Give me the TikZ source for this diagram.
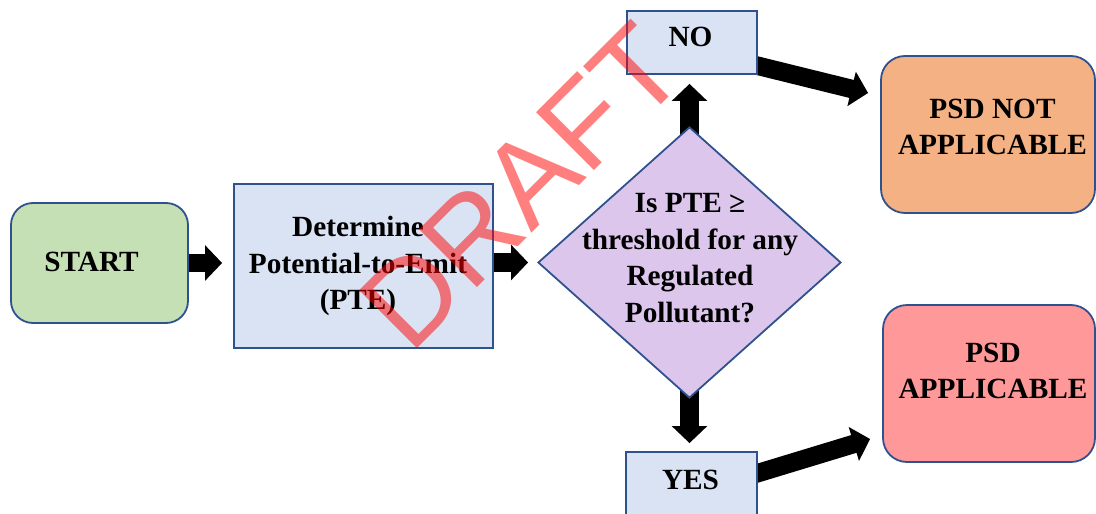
\documentclass[tikz,border=0pt]{standalone}
\usepackage{fontspec}
\setmainfont{Liberation Serif}
\newfontfamily\wmfont{Liberation Sans}
\usetikzlibrary{arrows.meta,shapes.geometric,backgrounds}
\definecolor{bordc}{HTML}{2F528F}
\definecolor{startc}{HTML}{C5E0B4}
\definecolor{detc}{HTML}{DAE3F3}
\definecolor{diac}{RGB}{220,198,236}
\definecolor{psdnoc}{HTML}{F4B183}
\definecolor{psdc}{HTML}{FF9999}
\begin{document}
\begin{tikzpicture}[x=1pt,y=-1pt,
  box/.style={draw=bordc,line width=1.8pt,inner sep=0pt},
  txt/.style={font=\fontsize{29.3pt}{36.6pt}\selectfont\bfseries,align=center,inner sep=0pt},
  blockarrow/.style={line width=18.5pt,-{Triangle[length=17pt,width=34.5pt]}}]
\useasboundingbox (0,0) rectangle (1096,514);
% boxes
\node[box,fill=startc,rounded corners=22pt,minimum width=177pt,minimum height=120pt] (start) at (99.5,263) {};
\node[box,fill=detc,minimum width=259pt,minimum height=164pt] (det) at (363.5,266) {};
\node[box,fill=diac,diamond,minimum width=303pt,minimum height=271pt] (dia) at (689.5,262.5) {};
\node[box,fill=detc,minimum width=130pt,minimum height=63pt] (no) at (692,42.5) {};
\node[box,fill=detc,minimum width=131pt,minimum height=65pt] (yes) at (691.5,484.5) {};
\node[box,fill=psdnoc,rounded corners=24pt,minimum width=214pt,minimum height=157pt] (psdno) at (988,134.5) {};
\node[box,fill=psdc,rounded corners=24pt,minimum width=212pt,minimum height=157pt] (psd) at (989,383.5) {};
% texts
\node[txt] (startT) at (91.5,262) {START};
\node[txt] (detT) at (358,266) {Determine\\Potential-to-Emit\\(PTE)};
\node[txt] (diaT) at (690,258) {Is PTE ≥\\threshold for any\\Regulated\\Pollutant?};
\node[txt] (noT) at (690.5,37) {NO};
\node[txt] (yesT) at (690.5,480.3) {YES};
\node[txt] (psdnoT) at (992.5,127) {PSD NOT\\APPLICABLE};
\node[txt] (psdT) at (993,371) {PSD\\APPLICABLE};
% connectors
\begin{pgfonlayer}{background}
\draw[blockarrow,shorten >=11pt] (start.east) -- (start.east -| det.west);
\draw[blockarrow,shorten >=9pt] (det.east |- dia.west) -- (dia.west);
\draw[blockarrow,shorten >=9pt] (dia.center) -- (dia.center |- no.south);
\draw[blockarrow,shorten >=8pt] (dia.center) -- (dia.center |- yes.north);
\draw[blockarrow] ([xshift=-7.8pt,yshift=11pt]no.south east) -- ([xshift=-12pt,yshift=41.5pt]psdno.west);
\draw[blockarrow] ([xshift=-7.6pt,yshift=-24.3pt]yes.north east) -- ([xshift=-12pt,yshift=-55.5pt]psd.west);
\end{pgfonlayer}
% watermark
\node[font=\wmfont\fontsize{119pt}{119pt}\selectfont,text=red,opacity=0.5,rotate=45,inner sep=0pt] (wm) at (521.5,186) {DRAFT};
\end{tikzpicture}
\end{document}
